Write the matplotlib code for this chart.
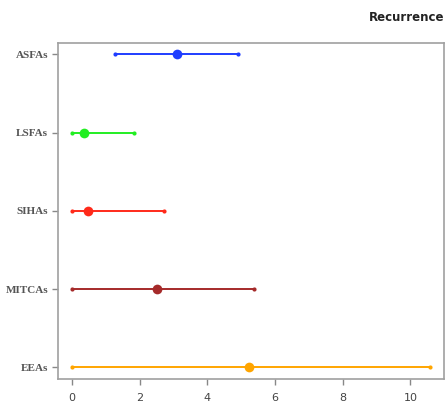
import matplotlib
matplotlib.use("Agg")
import matplotlib.pyplot as plt

groups = ["ASFAs", "LSFAs", "SIHAs", "MITCAs", "EEAs"]
estimate = [3.10, 0.36, 0.49, 2.51, 5.23]
lower = [1.27, 0.0, 0.0, 0.0, 0.0]
upper = [4.91, 1.83, 2.71, 5.39, 10.59]
colors = ["#1f3dff", "#22ee22", "#ff2a1a", "#a52a2a", "#ffa500"]

fig = plt.figure(figsize=(4.48, 4.05), dpi=100)
ax = fig.add_axes([0.1295, 0.064, 0.862, 0.831])

n = len(groups)
ypos = list(range(n, 0, -1))
for y, est, lo, hi, c in zip(ypos, estimate, lower, upper, colors):
    ax.plot([lo, hi], [y, y], color=c, lw=1.4, solid_capstyle="butt")
    ax.plot([lo, hi], [y, y], "o", color=c, ms=3, mec="none")
    ax.plot(est, y, "o", color=c, ms=7, mec="none")

ax.set_xlim(-0.41, 11.0)
ax.set_ylim(0.85, 5.15)
ax.set_xticks([0, 2, 4, 6, 8, 10])
ax.set_yticks(ypos)
ax.set_yticklabels(groups, family="Liberation Serif", fontsize=8,
                   fontweight="bold", color="#555555")
for lab in ax.get_xticklabels():
    lab.set_fontsize(8)
    lab.set_color("#444444")
ax.tick_params(colors="#888888", length=4, width=1)
ax.tick_params(axis="x", labelcolor="#444444", pad=6)
ax.tick_params(axis="y", labelcolor="#555555", pad=3)
for s in ax.spines.values():
    s.set_color("#a0a0a0")
    s.set_linewidth(1.2)

fig.text(0.993, 0.957, "Recurrence", ha="right", va="center", fontsize=8.5,
         fontweight="bold", color="#222222")

fig.savefig("out.png", dpi=100)
